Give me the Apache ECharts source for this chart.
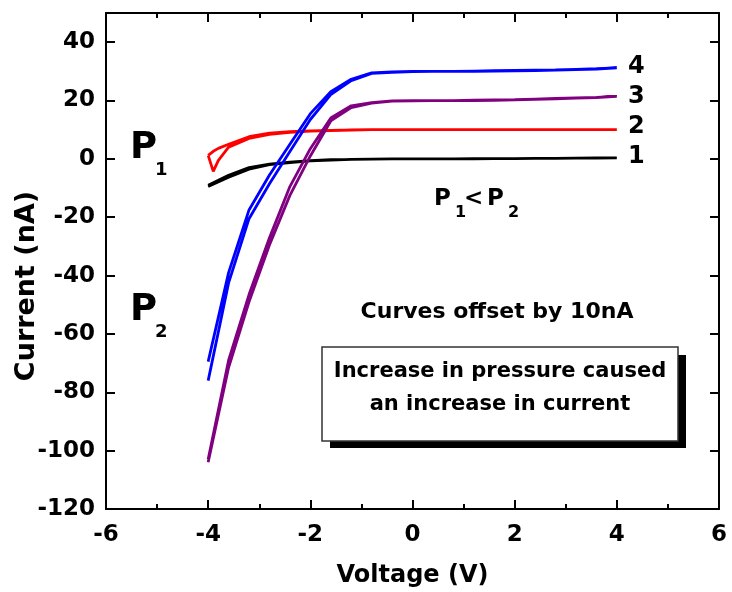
<!DOCTYPE html>
<html>
<head>
<meta charset="utf-8">
<script src="https://cdn.jsdelivr.net/npm/echarts@6/dist/echarts.min.js"></script>
<style>
  html, body { margin: 0; padding: 0; background: #fff; }
  #chart { width: 732px; height: 592px; }
</style>
</head>
<body>
<div id="chart"></div>
<script>
// voltage sweep points (V)
const volts = [-4, -3.6, -3.2, -2.8, -2.4, -2.0, -1.6, -1.2, -0.8, -0.4, 0, 0.4, 0.8, 1.2, 1.6, 2.0, 2.4, 2.8, 3.2, 3.6, 4]
const redVolts = [-4, -3.9, -3.8, -3.6, -3.2, -2.8, -2.4, -2.0, -1.6, -1.2, -0.8, -0.4, 0, 0.4, 0.8, 1.2, 1.6, 2.0, 2.4, 2.8, 3.2, 3.6, 4]

// current (nA), forward sweep and return sweep, curves offset by 10nA
const curve1Fwd = [-9.5, -6.3, -3.5, -2.0, -1.3, -0.7, -0.4, -0.2, -0.1, 0, 0, 0, 0, 0.05, 0.1, 0.1, 0.15, 0.2, 0.25, 0.3, 0.35]
const curve1Ret = [-9.0, -5.6, -3.0, -1.8, -1.1, -0.6, -0.3, -0.2, -0.1, 0, 0, 0, 0, 0.05, 0.1, 0.1, 0.15, 0.2, 0.25, 0.3, 0.35]
const curve2Fwd = [1.2, -4.3, -0.5, 4.0, 7.0, 8.4, 9.1, 9.5, 9.7, 9.9, 10, 10, 10, 10, 10, 10, 10, 10, 10, 10, 10, 10, 10]
const curve2Ret = [1.2, 2.6, 3.6, 5.0, 7.6, 8.8, 9.3, 9.6, 9.8, 9.9, 10, 10, 10, 10, 10, 10, 10, 10, 10, 10, 10, 10, 10]
const curve3Fwd = [-103, -69, -46.5, -27, -9.5, 3.5, 14, 18.2, 19.3, 19.9, 20, 20, 20, 20.1, 20.2, 20.3, 20.5, 20.7, 20.9, 21.1, 21.4]
const curve3Ret = [-104, -71.5, -49, -29.5, -12.5, 1, 13, 17.6, 19.1, 19.8, 19.9, 20, 20, 20, 20.1, 20.2, 20.4, 20.6, 20.8, 21, 21.4]
const curve4Fwd = [-69.5, -39, -17.5, -5.5, 5, 15.5, 23, 27.3, 29.5, 29.8, 30, 30, 30, 30.1, 30.2, 30.3, 30.4, 30.5, 30.7, 30.9, 31.2]
const curve4Ret = [-76, -42.5, -20.5, -8.5, 2.5, 13.5, 22, 26.8, 29.3, 29.7, 29.9, 30, 30, 30, 30.1, 30.2, 30.3, 30.4, 30.6, 30.8, 31.2]

const curveNames = ['1', '2', '3', '4']
const curveColors = ['#000000', '#ff0000', '#800080', '#0000ff']

const font = 'DejaVu Sans'

function loop(xs, fwd, ret) {
  const out = xs.map((v, i) => [v, fwd[i]])
  for (let i = xs.length - 1; i >= 0; i--) out.push([xs[i], ret[i]])
  return out
}

const loops = [
  loop(volts, curve1Fwd, curve1Ret),
  loop(redVolts, curve2Fwd, curve2Ret),
  loop(volts, curve3Fwd, curve3Ret),
  loop(volts, curve4Fwd, curve4Ret)
]

const chart = echarts.init(document.getElementById('chart'))

const lineStyle = { color: '#000', width: 2 }
const labelStyle = { fontFamily: font, fontWeight: 'bold', fontSize: 23, color: '#000' }

function txt(text, x, y, size, align) {
  return {
    type: 'text',
    x: x,
    y: y,
    style: {
      text: text,
      font: 'bold ' + size + 'px "' + font + '"',
      fill: '#000',
      textAlign: align || 'left',
      textVerticalAlign: 'middle'
    }
  }
}

const yTitle = txt('Current (nA)', 27, 286, 27, 'center')
yTitle.rotation = Math.PI / 2

chart.setOption({
  animation: false,
  backgroundColor: '#fff',
  grid: { left: 106, right: 13, top: 13, bottom: 83, outerBoundsMode: 'none', containLabel: false },
  xAxis: [
    {
      type: 'value', min: -6, max: 6, interval: 2, position: 'bottom',
      axisLine: { show: true, onZero: false, lineStyle: lineStyle },
      axisTick: { inside: true, length: 9, lineStyle: lineStyle },
      minorTick: { show: true, splitNumber: 2, length: 5, lineStyle: lineStyle },
      splitLine: { show: false },
      axisLabel: Object.assign({ margin: 15 }, labelStyle),
      name: 'Voltage (V)', nameLocation: 'middle', nameGap: 55,
      nameTextStyle: { fontFamily: font, fontWeight: 'bold', fontSize: 24, color: '#000' }
    },
    {
      type: 'value', min: -6, max: 6, interval: 2, position: 'top',
      axisLine: { show: true, onZero: false, lineStyle: lineStyle },
      axisTick: { inside: true, length: 9, lineStyle: lineStyle },
      minorTick: { show: true, splitNumber: 2, length: 5, lineStyle: lineStyle },
      splitLine: { show: false },
      axisLabel: { show: false }
    }
  ],
  yAxis: [
    {
      type: 'value', min: -120, max: 50, interval: 20, position: 'left',
      axisLine: { show: true, onZero: false, lineStyle: lineStyle },
      axisTick: { inside: true, length: 9, lineStyle: lineStyle },
      splitLine: { show: false },
      axisLabel: Object.assign({
        margin: 11,
        formatter: v => (v > 40 ? '' : String(v))
      }, labelStyle)
    },
    {
      type: 'value', min: -120, max: 50, interval: 20, position: 'right',
      axisLine: { show: true, onZero: false, lineStyle: lineStyle },
      axisTick: { inside: true, length: 9, lineStyle: lineStyle },
      splitLine: { show: false },
      axisLabel: { show: false }
    }
  ],
  series: loops.map((d, i) => ({
    name: curveNames[i],
    type: 'line',
    data: d,
    showSymbol: false,
    symbol: 'none',
    lineStyle: { color: curveColors[i], width: 2.8 },
    itemStyle: { color: curveColors[i] },
    z: 2 + i
  })),
  graphic: [
    yTitle,
    txt('4', 628, 67, 24),
    txt('3', 628, 97, 24),
    txt('2', 628, 127, 24),
    txt('1', 628, 157, 24),
    txt('P', 130, 148, 37),
    txt('1', 155, 170, 18),
    txt('P', 130, 310, 37),
    txt('2', 155, 332, 18),
    txt('P', 434, 199, 23),
    txt('1', 455, 213, 16),
    txt('<', 464, 199, 23),
    txt('P', 487, 199, 23),
    txt('2', 508, 213, 16),
    txt('Curves offset by 10nA', 497, 312, 22, 'center'),
    {
      type: 'rect',
      shape: { x: 330, y: 355, width: 356, height: 93 },
      style: { fill: '#000' }
    },
    {
      type: 'rect',
      shape: { x: 322, y: 347, width: 356, height: 94 },
      style: { fill: '#fff', stroke: '#333', lineWidth: 1.5 }
    },
    txt('Increase in pressure caused', 500, 372, 21, 'center'),
    txt('an increase in current', 500, 405, 21, 'center')
  ]
})
</script>
</body>
</html>
